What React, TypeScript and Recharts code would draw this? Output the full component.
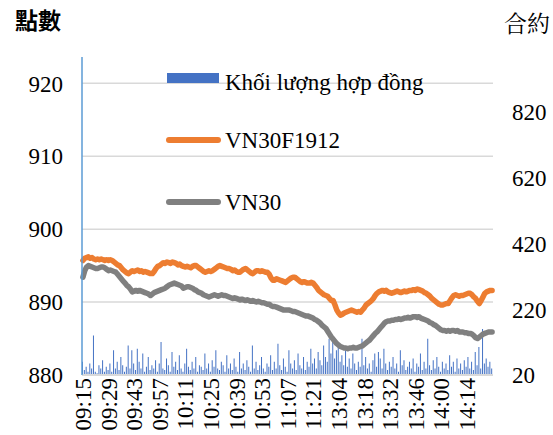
import React from 'react';
import {
  ComposedChart,
  Bar,
  Line,
  XAxis,
  YAxis,
  ReferenceLine
} from 'recharts';

// ---------- data ----------

const tickLabels = [
  '09:15', '09:29', '09:43', '09:57', '10:11', '10:25', '10:39', '10:53',
  '11:07', '11:21', '13:04', '13:18', '13:32', '13:46', '14:00', '14:14'
];

const leftTicks = [880, 890, 900, 910, 920];
const rightTicks = [20, 220, 420, 620, 820];

// trading sessions (minute bars)
const sessions = [
  { start: '09:15', end: '11:30' },
  { start: '13:00', end: '14:28' }
];

// VN30F1912 futures
const futures = [
  895.7, 896.0, 896.1, 896.2, 896.0, 896.1, 895.9, 895.8, 895.9, 895.8,
  895.9, 895.8, 895.7, 895.8, 895.7, 895.8, 895.7, 895.5, 895.3, 895.1,
  895.0, 894.7, 894.4, 894.2, 894.0, 893.9, 894.1, 894.3, 894.2, 894.3,
  894.4, 894.2, 894.3, 894.1, 894.2, 894.1, 894.0, 893.9, 893.9, 894.2,
  894.6, 894.9, 895.0, 895.2, 895.4, 895.3, 895.5, 895.4, 895.3, 895.5,
  895.4, 895.3, 895.1, 895.2, 895.0, 894.9, 894.8, 894.9, 894.8, 894.7,
  894.9, 895.0, 895.0, 894.8, 894.6, 894.4, 894.2, 894.1, 894.2, 894.3,
  894.2, 894.3, 894.5, 894.7, 894.9, 895.0, 894.9, 894.8, 894.7, 894.6,
  894.6, 894.5, 894.3, 894.4, 894.2, 894.1, 894.1, 894.3, 894.5, 894.6,
  894.4, 894.2, 894.0, 893.9, 894.1, 894.3, 894.3, 894.2, 894.3, 894.2,
  894.1, 894.1, 893.8, 893.3, 893.0, 893.0, 893.2, 893.1, 893.0, 892.9,
  892.8, 892.7, 892.9, 893.1, 893.3, 893.4, 893.4, 893.2, 893.0, 892.8,
  892.7, 892.8, 892.7, 892.6, 892.6, 892.7, 892.6, 892.3, 892.0, 891.6,
  891.4, 891.2, 891.0, 890.9, 890.8, 890.5, 890.2, 890.2, 889.6, 888.9,
  888.5, 888.2, 888.3, 888.5, 888.6, 888.7, 888.8, 888.9, 888.8, 888.7,
  888.6, 888.7, 888.6, 888.9, 889.2, 889.6, 889.8, 890.0, 890.2, 890.5,
  890.9, 891.2, 891.4, 891.5, 891.6, 891.5, 891.6, 891.4, 891.3, 891.2,
  891.3, 891.4, 891.5, 891.4, 891.3, 891.4, 891.5, 891.4, 891.5, 891.6,
  891.6, 891.7, 891.6, 891.8, 891.7, 891.6, 891.5, 891.3, 891.2, 891.0,
  890.8, 890.5, 890.3, 890.1, 889.9, 889.7, 889.6, 889.6, 889.7, 889.8,
  889.8, 890.2, 890.6, 890.9, 891.0, 890.9, 890.8, 890.9, 890.9, 891.0,
  891.1, 891.2, 891.2, 891.0, 890.7, 890.5, 890.1, 889.8, 890.2, 890.7,
  891.2, 891.4, 891.5, 891.6, 891.6
];

// VN30 index
const index30 = [
  893.4, 894.3, 894.8, 895.0, 894.9, 894.8, 894.7, 894.6, 894.6, 894.7,
  894.8, 894.8, 894.7, 894.5, 894.3, 894.4, 894.3, 894.2, 894.1, 893.8,
  893.5, 893.2, 892.9, 892.6, 892.3, 892.1, 891.8, 891.4, 891.5, 891.6,
  891.5, 891.6, 891.5, 891.4, 891.3, 891.2, 891.1, 890.9, 891.1, 891.3,
  891.4, 891.5, 891.6, 891.7, 891.8, 891.9, 892.1, 892.3, 892.4, 892.5,
  892.6, 892.5, 892.4, 892.3, 892.2, 891.9, 892.0, 892.1, 892.1, 892.0,
  891.9, 891.7, 891.6, 891.4, 891.3, 891.2, 891.0, 890.9, 890.8, 890.7,
  890.8, 890.9, 891.0, 890.9, 890.8, 890.9, 891.0, 890.9, 890.9, 890.8,
  890.7, 890.6, 890.5, 890.6, 890.5, 890.4, 890.3, 890.4, 890.3, 890.2,
  890.3, 890.2, 890.1, 890.2, 890.1, 890.0, 890.1, 890.0, 889.9, 889.9,
  889.8, 889.7, 889.7, 889.5, 889.4, 889.4, 889.3, 889.2, 889.1, 889.0,
  888.9, 888.9, 888.9, 888.9, 888.8, 888.7, 888.7, 888.6, 888.5, 888.4,
  888.3, 888.2, 888.1, 888.1, 888.0, 887.9, 887.8, 887.6, 887.5, 887.3,
  887.1, 886.8, 886.6, 886.4, 886.0, 885.6, 885.2, 884.9, 884.6, 884.3,
  884.1, 883.9, 883.8, 883.7, 883.7, 883.6, 883.7, 883.7, 883.8, 883.7,
  883.7, 883.8, 883.9, 884.0, 884.2, 884.4, 884.6, 884.8, 885.1, 885.4,
  885.7, 885.9, 886.2, 886.5, 886.8, 887.1, 887.3, 887.4, 887.4, 887.5,
  887.5, 887.6, 887.6, 887.7, 887.6, 887.7, 887.8, 887.8, 887.9, 887.8,
  887.9, 888.0, 888.0, 887.9, 888.0, 887.8, 887.7, 887.6, 887.5, 887.4,
  887.2, 887.1, 886.9, 886.8, 886.6, 886.4, 886.2, 886.1, 886.1, 886.0,
  886.1, 886.0, 886.1, 886.1, 886.0, 886.1, 885.9, 885.9, 885.9, 885.8,
  885.8, 885.7, 885.7, 885.6, 885.4, 885.1, 885.0, 885.2, 885.4, 885.6,
  885.7, 885.8, 885.9, 885.9, 885.9
];

// contracts traded
const volume = [
  60, 35, 45, 30, 55, 40, 140, 30, 25, 50,
  40, 65, 30, 45, 35, 55, 30, 95, 40, 60,
  35, 75, 50, 30, 45, 110, 40, 95, 55, 35,
  100, 60, 40, 85, 30, 45, 75, 35, 50, 40,
  65, 30, 55, 120, 40, 35, 70, 50, 30, 90,
  45, 60, 35, 80, 40, 30, 55, 100, 45, 35,
  60, 40, 75, 30, 50, 45, 35, 85, 40, 55,
  30, 65, 45, 95, 40, 35, 60, 50, 30, 80,
  40, 55, 35, 70, 45, 30, 90, 40, 55, 35,
  65, 45, 30, 110, 40, 60, 35, 50, 75, 40,
  30, 55, 45, 80, 35, 60, 40, 115, 50, 35,
  70, 45, 30, 95, 55, 40, 65, 35, 85, 50,
  40, 75, 35, 60, 45, 100, 55, 70, 40, 90,
  65, 50, 110, 75, 60, 130, 85, 120, 70, 95,
  110, 60, 80, 50, 95, 45, 70, 40, 85, 55,
  35, 60, 45, 130, 50, 75, 40, 55, 30, 65,
  85, 45, 90, 70, 40, 100, 55, 35, 60, 45,
  75, 40, 55, 30, 95, 50, 65, 35, 45, 60,
  40, 70, 30, 55, 45, 85, 35, 60, 40, 130,
  50, 35, 65, 40, 75, 45, 30, 60, 40, 55,
  35, 80, 45, 60, 30, 70, 40, 55, 35, 65,
  45, 75, 40, 60, 35, 90, 50, 105, 40, 160,
  55, 70, 45, 60, 40
];

// ---------- helpers ----------

const toMin = (s: string) => {
  const [h, m] = s.split(':').map(Number);
  return h * 60 + m;
};

const fmt = (m: number) =>
  String(Math.floor(m / 60)).padStart(2, '0') + ':' + String(m % 60).padStart(2, '0');

const times: string[] = [];
sessions.forEach((s) => {
  for (let m = toMin(s.start); m <= toMin(s.end); m++) times.push(fmt(m));
});

const data = times.map((t, i) => ({
  t,
  vol: volume[i],
  f: futures[i],
  vn30: index30[i]
}));

const SERIF = '"Liberation Serif", "Times New Roman", serif';
const CJK_SANS = '"Noto Sans CJK TC"';
const CJK_SERIF = '"Noto Serif CJK TC"';

function TimeTick({ x, y, payload }: any) {
  return (
    <g transform={`translate(${x},${y})`}>
      <text
        transform="rotate(-90)"
        x={-1}
        y={0}
        dy="0.36em"
        textAnchor="end"
        fontSize={23}
        fill="#000"
        fontFamily="Liberation Serif"
      >
        {payload.value}
      </text>
    </g>
  );
}

function ValueTick({ x, y, payload, textAnchor }: any) {
  return (
    <text
      x={x}
      y={y}
      dy="0.36em"
      textAnchor={textAnchor}
      fontSize={23}
      fill="#000"
      fontFamily="Liberation Serif"
    >
      {payload.value}
    </text>
  );
}

const legendText: React.CSSProperties = {
  position: 'absolute',
  left: 225,
  fontFamily: SERIF,
  fontSize: 23,
  lineHeight: '24px',
  color: '#000',
  whiteSpace: 'nowrap'
};

export default function App() {
  return (
    <div
      style={{
        position: 'absolute',
        left: 0,
        top: 0,
        width: 553,
        height: 435,
        background: '#fff'
      }}
    >
      <ComposedChart
        width={553}
        height={435}
        data={data}
        margin={{ top: 57, right: 0, left: 0, bottom: 0 }}
      >
        {leftTicks.slice(1).map((v) => (
          <ReferenceLine
            key={v}
            yAxisId="left"
            y={v}
            stroke="#d9d9d9"
            strokeWidth={1.5}
          />
        ))}

        <XAxis
          dataKey="t"
          ticks={tickLabels}
          interval={0}
          height={60}
          tickLine={false}
          tickSize={0}
          tickMargin={2}
          axisLine={{ stroke: '#d9d9d9', strokeWidth: 2 }}
          tick={<TimeTick />}
        />

        <YAxis
          yAxisId="left"
          width={82}
          domain={[880, 923.6]}
          ticks={leftTicks}
          interval={0}
          tickLine={false}
          tickMargin={13}
          axisLine={{ stroke: '#5b9bd5', strokeWidth: 1.5 }}
          tick={<ValueTick />}
        />

        <YAxis
          yAxisId="right"
          orientation="right"
          width={60}
          domain={[20, 987]}
          ticks={rightTicks}
          interval={0}
          tickLine={false}
          axisLine={{ stroke: 'transparent' }}
          tickMargin={13}
          tick={<ValueTick />}
        />

        <Bar
          yAxisId="right"
          dataKey="vol"
          fill="#4472c4"
          barSize={1}
          isAnimationActive={false}
        />

        <Line
          yAxisId="left"
          type="linear"
          dataKey="vn30"
          stroke="#808080"
          strokeWidth={5.5}
          strokeLinejoin="round"
          strokeLinecap="round"
          dot={false}
          isAnimationActive={false}
        />

        <Line
          yAxisId="left"
          type="linear"
          dataKey="f"
          stroke="#ed7d31"
          strokeWidth={5.5}
          strokeLinejoin="round"
          strokeLinecap="round"
          dot={false}
          isAnimationActive={false}
        />
      </ComposedChart>

      {/* axis titles */}

      <div
        style={{
          position: 'absolute',
          left: 15,
          top: 5,
          fontFamily: CJK_SANS,
          fontSize: 23,
          fontWeight: 700,
          lineHeight: '28px'
        }}
      >
        點數
      </div>

      <div
        style={{
          position: 'absolute',
          left: 504,
          top: 9,
          fontFamily: CJK_SERIF,
          fontSize: 23,
          lineHeight: '28px'
        }}
      >
        合約
      </div>

      {/* legend */}

      <div style={{ position: 'absolute', left: 167, top: 73, width: 52, height: 10, background: '#4472c4' }} />
      <div style={{ ...legendText, top: 71 }}>Khối lượng hợp đồng</div>

      <div style={{ position: 'absolute', left: 166, top: 137, width: 55, height: 6, borderRadius: 3, background: '#ed7d31' }} />
      <div style={{ ...legendText, top: 129 }}>VN30F1912</div>

      <div style={{ position: 'absolute', left: 166, top: 199, width: 55, height: 6, borderRadius: 3, background: '#808080' }} />
      <div style={{ ...legendText, top: 191 }}>VN30</div>
    </div>
  );
}
